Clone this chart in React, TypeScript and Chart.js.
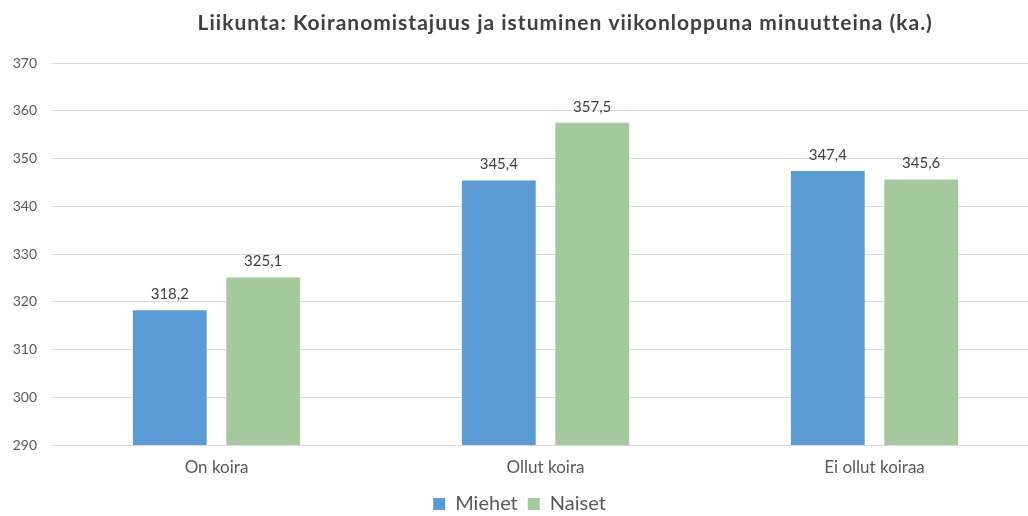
import React, { useEffect, useRef } from "react";
import { Chart, registerables } from "chart.js";

Chart.register(...registerables);

const chartTitle = "Liikunta: Koiranomistajuus ja istuminen viikonloppuna minuutteina (ka.)";
const categories = ["On koira", "Ollut koira", "Ei ollut koiraa"];
const seriesNames = ["Miehet", "Naiset"];
const miehet = [318.2, 345.4, 347.4];
const naiset = [325.1, 357.5, 345.6];
const yMin = 290;
const yMax = 370;
const yStep = 10;

const FONT = "Lato, 'Open Sans', sans-serif";
const BLUE = "#5B9BD5";
const GREEN = "#A3C99D";

const titlePlugin = {
  id: "customTitle",
  afterDraw(chart: any) {
    const { ctx, chartArea } = chart;
    ctx.save();
    ctx.font = `bold 21px ${FONT}`;
    try {
      (ctx as any).letterSpacing = "1px";
    } catch (e) {}
    ctx.fillStyle = "#404040";
    ctx.textAlign = "center";
    ctx.textBaseline = "middle";
    ctx.fillText(chartTitle, chartArea.left + chartArea.width * 0.52, 23);
    ctx.restore();
  },
};

const valueLabels = {
  id: "valueLabels",
  afterDatasetsDraw(chart: any) {
    const { ctx } = chart;
    ctx.save();
    ctx.font = `15px ${FONT}`;
    ctx.fillStyle = "#404040";
    ctx.textAlign = "center";
    ctx.textBaseline = "middle";
    chart.data.datasets.forEach((ds: any, i: number) => {
      const meta = chart.getDatasetMeta(i);
      meta.data.forEach((bar: any, j: number) => {
        const v = ds.data[j] as number;
        ctx.fillText(v.toFixed(1).replace(".", ","), bar.x, bar.y - 16);
      });
    });
    ctx.restore();
  },
};

export default function App() {
  const ref = useRef<HTMLCanvasElement | null>(null);

  useEffect(() => {
    if (!ref.current) return;
    const chart = new Chart(ref.current, {
      type: "bar",
      data: {
        labels: categories,
        datasets: [
          {
            label: seriesNames[0],
            data: miehet,
            backgroundColor: BLUE,
            categoryPercentage: 0.568,
            barPercentage: 0.79,
          },
          {
            label: seriesNames[1],
            data: naiset,
            backgroundColor: GREEN,
            categoryPercentage: 0.568,
            barPercentage: 0.79,
          },
        ],
      },
      options: {
        responsive: false,
        animation: false,
        layout: { padding: { top: 63, left: 0, right: 6, bottom: 0 } },
        plugins: {
          title: { display: false },
          tooltip: { enabled: false },
          legend: {
            position: "bottom",
            labels: {
              font: { family: FONT, size: 20 },
              color: "#595959",
              boxWidth: 12,
              boxHeight: 12,
              padding: 10,
            },
          },
        },
        scales: {
          x: {
            grid: { display: false, drawTicks: false },
            border: { display: false },
            ticks: {
              font: { family: FONT, size: 17 },
              color: "#595959",
              padding: 12,
            },
            afterFit(scale: any) {
              scale.height = 39;
            },
          },
          y: {
            min: yMin,
            max: yMax,
            grid: { color: "#D9D9D9", drawTicks: false, lineWidth: 1 },
            border: { display: false },
            ticks: {
              stepSize: yStep,
              font: { family: FONT, size: 14 },
              color: "#595959",
              padding: 15,
            },
            afterFit(scale: any) {
              scale.width = 52;
            },
          },
        },
      },
      plugins: [titlePlugin, valueLabels],
    });
    return () => chart.destroy();
  }, []);

  return (
    <div
      style={{
        position: "absolute",
        left: 0,
        top: 0,
        width: 1028,
        height: 516,
        overflow: "hidden",
        background: "#fff",
      }}
    >
      <canvas ref={ref} width={1045} height={524} style={{ display: "block" }} />
    </div>
  );
}
